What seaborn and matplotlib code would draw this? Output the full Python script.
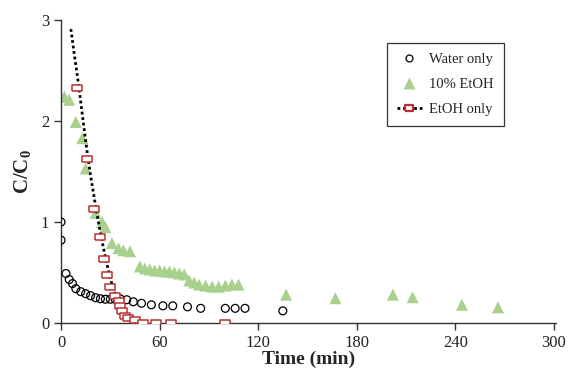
import numpy as np
import pandas as pd
import matplotlib
matplotlib.use("Agg")
import matplotlib.pyplot as plt
from matplotlib.lines import Line2D
import seaborn as sns

# water only (circles)
water_t = [0, 0, 3, 5, 7, 9, 12, 15, 18, 21, 24, 27, 30, 33, 36, 40, 44, 49, 55,
           62, 68, 77, 85, 100, 106, 112, 135]
water_c = [1.0, 0.82, 0.49, 0.43, 0.39, 0.34, 0.31, 0.29, 0.27, 0.25, 0.24, 0.235,
           0.235, 0.235, 0.24, 0.23, 0.21, 0.195, 0.18, 0.17, 0.17, 0.16, 0.145,
           0.145, 0.145, 0.145, 0.12]

# 10% EtOH (triangles)
mix_t = [2, 5, 9, 13, 15, 21, 25, 27, 31, 35, 38, 42, 48, 51, 54, 57, 60, 63, 66,
         69, 72, 75, 78, 81, 84, 88, 92, 96, 100, 104, 108, 137, 167, 202, 214,
         244, 266]
mix_c = [2.24, 2.21, 1.99, 1.83, 1.53, 1.09, 1.0, 0.95, 0.79, 0.74, 0.72, 0.71,
         0.56, 0.54, 0.53, 0.52, 0.52, 0.51, 0.51, 0.50, 0.49, 0.48, 0.42, 0.40,
         0.38, 0.37, 0.36, 0.36, 0.37, 0.38, 0.38, 0.28, 0.245, 0.28, 0.255,
         0.18, 0.155]

# EtOH only (squares) and its dotted fit curve
etoh_t = [10, 16, 20, 24, 26, 28, 30, 33, 35, 36, 37, 39, 41, 45, 50, 58, 67, 100]
etoh_c = [2.33, 1.62, 1.13, 0.85, 0.63, 0.48, 0.36, 0.27, 0.22, 0.17, 0.12, 0.07,
          0.05, 0.03, 0.0, 0.0, 0.0, 0.0]
fit_t = [6, 8, 10, 12, 14, 16, 18, 20, 22, 24, 26, 28, 30, 32, 34, 36, 38, 40, 42, 44]
fit_c = [2.91, 2.67, 2.44, 2.19, 1.93, 1.68, 1.46, 1.26, 1.07, 0.89, 0.73, 0.58,
         0.44, 0.33, 0.24, 0.17, 0.11, 0.07, 0.04, 0.02]

water = pd.DataFrame({"t": water_t, "c": water_c})
mix = pd.DataFrame({"t": mix_t, "c": mix_c})
etoh = pd.DataFrame({"t": etoh_t, "c": etoh_c})
fit = pd.DataFrame({"t": fit_t, "c": fit_c})

sns.set_style("ticks")
plt.rcParams["font.family"] = ["Liberation Serif", "DejaVu Serif"]
plt.rcParams["mathtext.fontset"] = "custom"
plt.rcParams["mathtext.rm"] = "Liberation Serif"
plt.rcParams["mathtext.bf"] = "Liberation Serif:bold"

green = "#a9d18e"
red = "#b8312f"
rect = [(-1.5, -1), (1.5, -1), (1.5, 1), (-1.5, 1), (-1.5, -1)]

fig = plt.figure(figsize=(5.74, 3.76), dpi=100)
ax = fig.add_axes([0.1063, 0.141, 0.8630, 0.8058])

sns.scatterplot(data=mix, x="t", y="c", ax=ax, marker="^", s=75, color=green,
                edgecolor="none", zorder=2)
sns.scatterplot(data=water, x="t", y="c", ax=ax, marker="o", s=32,
                facecolor="none", edgecolor="black", linewidth=0.9, zorder=3)
sns.lineplot(data=fit, x="t", y="c", ax=ax, color="black", linestyle=(0, (1, 1)),
             linewidth=2.0, zorder=4)
sns.scatterplot(data=etoh, x="t", y="c", ax=ax, marker=rect, s=48,
                facecolor="white", edgecolor=red, linewidth=1.1, zorder=5)

ax.set_xlim(0, 301.5)
ax.set_ylim(0, 3)
ax.set_xticks([0, 60, 120, 180, 240, 300])
ax.set_yticks([0, 1, 2, 3])
ax.tick_params(axis="both", labelsize=12, length=5, width=1, direction="out",
               color="#333333", labelcolor="#222222")
for side in ["top", "right"]:
    ax.spines[side].set_visible(False)
for side in ["left", "bottom"]:
    ax.spines[side].set_color("#333333")
    ax.spines[side].set_linewidth(1.0)

ax.set_xlabel("Time (min)", fontsize=14, fontweight="bold", labelpad=0)
ax.set_ylabel(r"$\mathbf{C/C_0}$", fontsize=15, labelpad=6)

handles = [
    Line2D([], [], linestyle="none", marker="o", markersize=5, markerfacecolor="none",
           markeredgecolor="black", markeredgewidth=0.9),
    Line2D([], [], linestyle="none", marker="^", markersize=8, color=green,
           markeredgecolor="none"),
    Line2D([], [], color="black", linestyle=(0, (1, 1)), linewidth=2.0, marker=rect,
           markersize=6, markerfacecolor="white", markeredgecolor=red,
           markeredgewidth=1.6),
]
leg = ax.legend(handles, ["Water only", "10% EtOH", "EtOH only"], loc="upper left",
                bbox_to_anchor=(0.643, 0.948), fontsize=10.5, frameon=True,
                fancybox=False, edgecolor="black", handlelength=1.7,
                handletextpad=0.5, borderpad=0.7, labelspacing=0.8)
leg.get_frame().set_linewidth(0.9)

fig.savefig("out.png", dpi=100)
